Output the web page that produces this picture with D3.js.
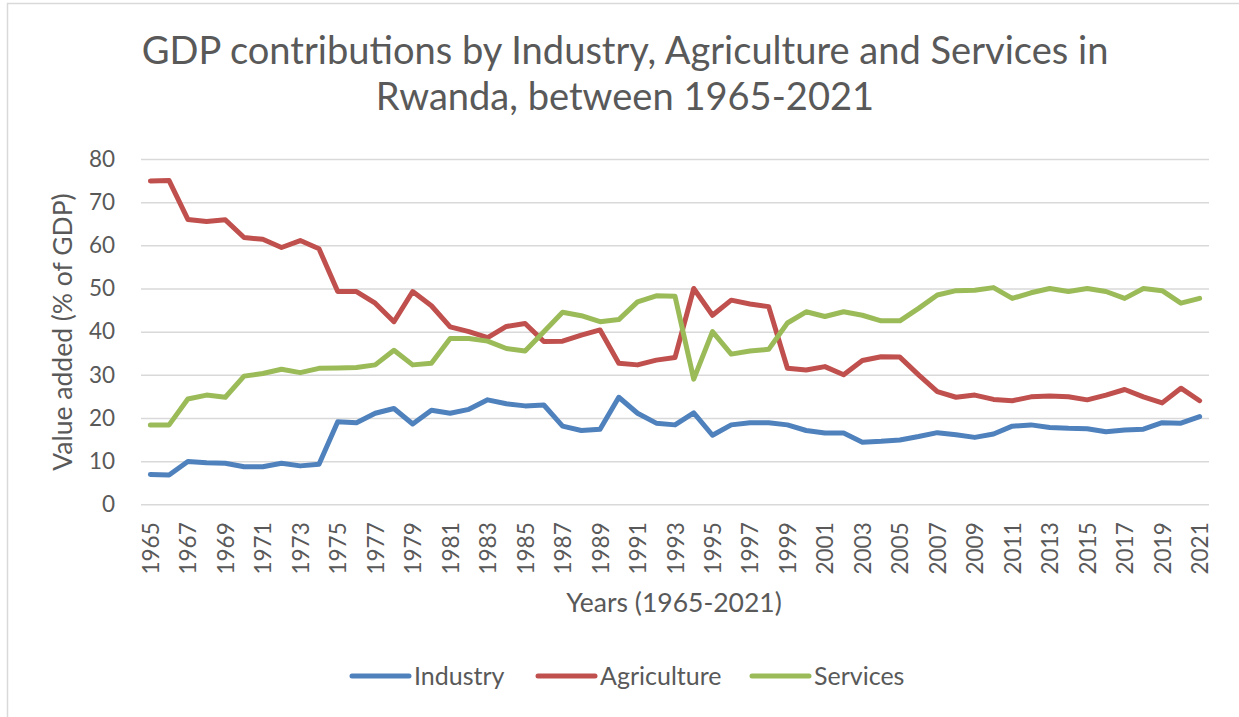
<!DOCTYPE html>
<html>
<head>
<meta charset="utf-8">
<script src="https://cdn.jsdelivr.net/npm/d3@7"></script>
<style>
  html, body { margin: 0; padding: 0; background: #fff; }
  svg { display: block; }
  text { font-family: Lato, "Open Sans", "Noto Sans", sans-serif; fill: #595959; }
</style>
</head>
<body>
<svg id="chart" width="1239" height="717"></svg>
<script>
// Value added as share of GDP, Rwanda, 1965-2021
const years = d3.range(1965, 2022);

const industry = [
  6.9, 6.8, 9.9, 9.6, 9.5, 8.7, 8.7, 9.5, 8.9, 9.3,
  19.1, 18.9, 21.1, 22.2, 18.6, 21.8, 21.1, 22.0, 24.2, 23.3,
  22.8, 23.0, 18.1, 17.1, 17.4, 24.8, 21.1, 18.8, 18.4, 21.2,
  16.0, 18.4, 18.9, 18.9, 18.4, 17.1, 16.5, 16.5, 14.4, 14.6,
  14.9, 15.7, 16.6, 16.1, 15.5, 16.3, 18.1, 18.4, 17.8, 17.6,
  17.5, 16.8, 17.2, 17.4, 18.9, 18.8, 20.3
];

const agriculture = [
  74.9, 75.0, 66.0, 65.5, 65.9, 61.8, 61.4, 59.5, 61.1, 59.2,
  49.3, 49.3, 46.6, 42.3, 49.3, 46.0, 41.1, 40.0, 38.6, 41.2,
  41.9, 37.7, 37.8, 39.2, 40.4, 32.7, 32.3, 33.4, 34.0, 50.0,
  43.8, 47.3, 46.4, 45.8, 31.5, 31.1, 31.9, 30.0, 33.3, 34.2,
  34.1, 30.0, 26.1, 24.8, 25.3, 24.3, 24.0, 24.9, 25.1, 24.9,
  24.2, 25.3, 26.6, 24.9, 23.5, 26.9, 24.0
];

const services = [
  18.4, 18.4, 24.4, 25.3, 24.8, 29.7, 30.3, 31.3, 30.5, 31.5,
  31.6, 31.7, 32.3, 35.7, 32.3, 32.7, 38.4, 38.4, 37.8, 36.1,
  35.5, 40.0, 44.5, 43.7, 42.3, 42.8, 46.9, 48.3, 48.2, 29.0,
  40.0, 34.8, 35.5, 35.9, 42.0, 44.6, 43.5, 44.6, 43.8, 42.5,
  42.5, 45.4, 48.5, 49.5, 49.6, 50.2, 47.7, 49.0, 50.0, 49.3,
  50.0, 49.3, 47.7, 50.0, 49.5, 46.6, 47.7
];

const seriesNames = ["Industry", "Agriculture", "Services"];
const seriesColors = ["#4F81BD", "#C0504D", "#9BBB59"];
const yTicks = [0, 10, 20, 30, 40, 50, 60, 70, 80];
const xTickYears = years.filter((y, i) => i % 2 === 0);

const titleLines = [
  "GDP contributions by Industry, Agriculture and Services in",
  "Rwanda, between 1965-2021"
];
const xAxisTitle = "Years (1965-2021)";
const yAxisTitle = "Value added (% of GDP)";

const seriesValues = [industry, agriculture, services];

const svg = d3.select("#chart");

// chart frame
svg.append("rect")
  .attr("x", 7.5).attr("y", 3.5)
  .attr("width", 1260).attr("height", 740)
  .attr("fill", "#fff")
  .attr("stroke", "#d9d9d9")
  .attr("stroke-width", 1.5);

const plot = { left: 141, right: 1209, top: 159, bottom: 504.3 };

const x = d3.scaleBand()
  .domain(years)
  .range([plot.left, plot.right])
  .padding(0);

const y = d3.scaleLinear()
  .domain([0, 80])
  .range([plot.bottom, plot.top]);

const cx = d => x(d) + x.bandwidth() / 2;

// horizontal gridlines
const yAxis = d3.axisLeft(y)
  .tickValues(yTicks)
  .tickSize(-(plot.right - plot.left))
  .tickPadding(26)
  .tickFormat(d3.format("d"));

const gy = svg.append("g")
  .attr("transform", `translate(${plot.left},0)`)
  .call(yAxis);
gy.select(".domain").remove();
gy.selectAll(".tick line")
  .attr("stroke", "#d9d9d9")
  .attr("stroke-width", 1.5);
gy.selectAll(".tick text")
  .attr("font-size", 22.5)
  .attr("fill", "#595959")
  .style("font-family", "Lato, 'Open Sans', sans-serif");

// category axis labels, rotated
const xAxis = d3.axisBottom(x)
  .tickValues(xTickYears)
  .tickSize(0)
  .tickPadding(0);

const gx = svg.append("g")
  .attr("transform", `translate(0,${plot.bottom})`)
  .call(xAxis);
gx.select(".domain").remove();
gx.selectAll(".tick text")
  .attr("font-size", 22.5)
  .attr("fill", "#595959")
  .style("font-family", "Lato, 'Open Sans', sans-serif")
  .attr("text-anchor", "end")
  .attr("dy", null)
  .attr("y", 0)
  .attr("transform", "translate(0,18) rotate(-90)")
  .attr("dominant-baseline", "central");

// series lines
const line = d3.line()
  .x((d, i) => cx(years[i]))
  .y(d => y(d));

seriesValues.forEach((vals, k) => {
  svg.append("path")
    .datum(vals)
    .attr("fill", "none")
    .attr("stroke", seriesColors[k])
    .attr("stroke-width", 5)
    .attr("stroke-linejoin", "round")
    .attr("stroke-linecap", "round")
    .attr("d", line);
});

// title
const title = svg.append("g");
const t1 = title.append("text")
  .attr("x", 625).attr("y", 64)
  .attr("text-anchor", "middle")
  .attr("font-size", 34)
  .text(titleLines[0]);
// fit the first line to its column width and reuse that size
const w1 = t1.node().getComputedTextLength();
const titleSize = 34 * 967 / w1;
t1.attr("font-size", titleSize);
title.append("text")
  .attr("x", 625).attr("y", 110)
  .attr("text-anchor", "middle")
  .attr("font-size", titleSize)
  .text(titleLines[1]);

// axis titles
svg.append("text")
  .attr("x", 674).attr("y", 612)
  .attr("text-anchor", "middle")
  .attr("font-size", 26.5)
  .text(xAxisTitle);

svg.append("text")
  .attr("transform", "translate(72,332) rotate(-90)")
  .attr("text-anchor", "middle")
  .attr("font-size", 26.5)
  .text(yAxisTitle);

// legend
const legendX = [352, 538, 752];
const legend = svg.append("g");
seriesNames.forEach((name, k) => {
  legend.append("line")
    .attr("x1", legendX[k]).attr("x2", legendX[k] + 57)
    .attr("y1", 676).attr("y2", 676)
    .attr("stroke", seriesColors[k])
    .attr("stroke-width", 5)
    .attr("stroke-linecap", "round");
  legend.append("text")
    .attr("x", legendX[k] + 62).attr("y", 685)
    .attr("font-size", 25)
    .text(name);
});
</script>
</body>
</html>
